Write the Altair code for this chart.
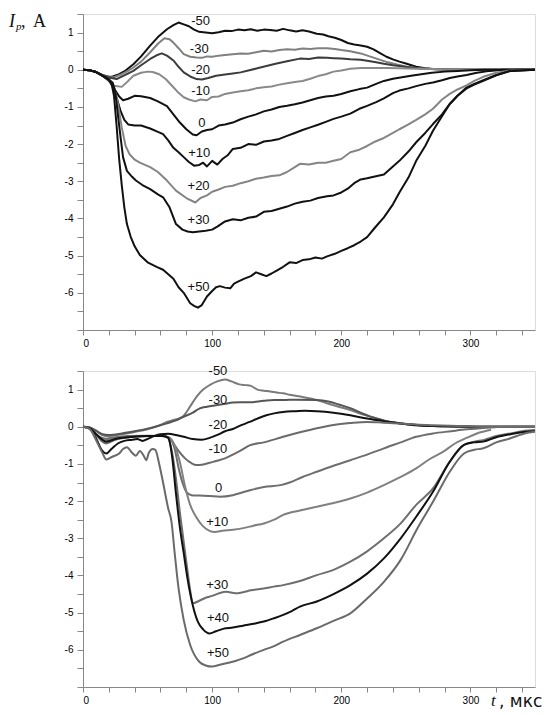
import altair as alt
import pandas as pd

# ---------------- top panel data ----------------
TOP_NAMES = ["-50", "-30", "-20", "-10", "0", "+10", "+20", "+30", "+50"]
TOP_COLORS = ["#111111", "#808080", "#3c3c3c", "#8a8a8a", "#111111", "#111111", "#858585", "#111111", "#111111"]

T_TOP_M50 = [0,5,10,15,20,23,28,33,39,45,52,58,65,70,74,78,82,86,90,95,100,105,110,115,120,125,130,135,140,145,150,155,160,165,170,175,181,186,190,195,200,205,210,215,220,225,230,235,240,245,250,258,265,271,280,290,300,320,350]
I_TOP_M50 = [0,-0.01,-0.06,-0.14,-0.19,-0.18,-0.12,-0.02,0.15,0.36,0.65,0.88,1.09,1.2,1.27,1.22,1.17,1.08,1.02,1.0,0.98,1.01,1.05,1.04,1.08,1.06,1.09,1.05,1.08,1.07,1.05,1.1,1.06,1.03,1.06,1.03,0.97,0.95,0.9,0.86,0.8,0.72,0.68,0.65,0.62,0.55,0.45,0.35,0.28,0.22,0.17,0.08,0.04,0.02,0.01,0.0,0.0,0.0,0.0]

T_TOP_M30 = [0,5,10,15,20,24,30,35,39,45,52,58,63,67,70,74,78,83,88,92,96,100,105,110,116,122,128,134,140,146,152,158,164,170,176,182,189,195,200,207,215,222,229,236,243,250,258,266,275,290,310,350]
I_TOP_M30 = [0,-0.01,-0.06,-0.15,-0.2,-0.2,-0.12,-0.03,0.06,0.22,0.47,0.7,0.85,0.82,0.73,0.58,0.42,0.35,0.33,0.32,0.36,0.35,0.38,0.4,0.42,0.44,0.43,0.47,0.51,0.49,0.53,0.55,0.54,0.57,0.56,0.58,0.58,0.56,0.53,0.5,0.44,0.36,0.28,0.2,0.14,0.09,0.05,0.03,0.01,0,0,0]

T_TOP_M20 = [0,5,10,15,20,26,32,39,45,52,57,61,65,70,74,78,83,88,92,97,103,110,116,122,128,135,142,150,158,168,175,182,189,194,200,207,215,220,227,233,240,245,252,260,270,285,310,350]
I_TOP_M20 = [0,-0.01,-0.06,-0.15,-0.21,-0.25,-0.15,-0.03,0.12,0.29,0.39,0.44,0.38,0.25,0.08,-0.07,-0.18,-0.25,-0.26,-0.22,-0.16,-0.13,-0.1,-0.07,-0.02,0.04,0.1,0.17,0.23,0.3,0.29,0.33,0.32,0.31,0.3,0.28,0.27,0.24,0.2,0.16,0.12,0.1,0.07,0.04,0.02,0.01,0,0]

T_TOP_M10 = [0,5,10,15,20,24,30,35,39,45,50,54,59,64,70,74,78,82,87,91,96,100,105,110,116,122,128,134,140,146,152,158,164,170,176,182,188,194,200,207,215,225,235,245,258,270,290,320,350]
I_TOP_M10 = [0,-0.01,-0.06,-0.16,-0.3,-0.43,-0.46,-0.3,-0.16,-0.08,-0.05,-0.06,-0.12,-0.25,-0.47,-0.62,-0.74,-0.8,-0.85,-0.8,-0.82,-0.73,-0.72,-0.65,-0.61,-0.58,-0.55,-0.5,-0.47,-0.45,-0.4,-0.36,-0.33,-0.3,-0.24,-0.17,-0.12,-0.05,-0.02,0.03,0.05,0.05,0.05,0.04,0.03,0.02,0.01,0,0]

T_TOP_0 = [0,5,10,15,20,24,28,31,35,40,45,52,58,65,70,75,80,85,88,92,96,100,105,110,116,122,128,134,140,146,152,158,164,170,176,182,188,194,200,207,214,220,227,233,240,247,254,262,270,280,290,300,310,330,350]
I_TOP_0 = [0,-0.01,-0.06,-0.16,-0.28,-0.5,-0.72,-0.82,-0.78,-0.7,-0.71,-0.76,-0.85,-0.98,-1.2,-1.42,-1.6,-1.74,-1.76,-1.66,-1.62,-1.6,-1.5,-1.47,-1.42,-1.33,-1.26,-1.2,-1.12,-1.07,-1.0,-0.97,-0.93,-0.88,-0.82,-0.76,-0.72,-0.7,-0.65,-0.58,-0.52,-0.48,-0.38,-0.3,-0.24,-0.2,-0.16,-0.12,-0.08,-0.05,-0.03,-0.01,0,0,0]

T_TOP_P10 = [0,5,10,15,20,23,26,29,32,35,40,45,52,58,62,66,70,74,78,82,86,90,93,96,100,104,108,112,116,122,128,134,140,146,152,158,164,170,176,182,188,194,200,207,214,220,227,233,240,245,252,258,265,271,278,284,290,297,305,315,325,350]
I_TOP_P10 = [0,-0.01,-0.06,-0.16,-0.27,-0.45,-0.75,-1.1,-1.35,-1.47,-1.5,-1.5,-1.58,-1.67,-1.73,-1.9,-2.1,-2.22,-2.35,-2.48,-2.58,-2.56,-2.5,-2.6,-2.45,-2.55,-2.4,-2.3,-2.13,-2.1,-2.0,-2.02,-1.93,-1.9,-1.86,-1.78,-1.7,-1.62,-1.55,-1.48,-1.4,-1.32,-1.26,-1.18,-1.05,-0.97,-0.87,-0.77,-0.63,-0.56,-0.5,-0.44,-0.38,-0.34,-0.28,-0.22,-0.18,-0.14,-0.08,-0.03,0,0]

T_TOP_P20 = [0,5,10,15,20,24,27,30,33,36,40,44,52,58,65,72,80,87,91,96,100,105,110,116,122,128,134,140,146,152,158,164,168,175,182,188,194,200,207,214,220,225,232,240,245,252,258,265,271,278,284,290,297,303,310,320,331,350]
I_TOP_P20 = [0,-0.01,-0.06,-0.16,-0.26,-0.45,-0.9,-1.55,-2.05,-2.27,-2.42,-2.5,-2.62,-2.75,-2.98,-3.25,-3.45,-3.57,-3.45,-3.38,-3.28,-3.22,-3.15,-3.12,-3.05,-3.0,-2.93,-2.9,-2.86,-2.84,-2.75,-2.62,-2.53,-2.55,-2.5,-2.5,-2.45,-2.4,-2.22,-2.15,-2.05,-1.95,-1.85,-1.7,-1.6,-1.47,-1.35,-1.2,-1.05,-0.8,-0.65,-0.53,-0.42,-0.3,-0.19,-0.08,-0.02,0]

T_TOP_P30 = [0,5,10,15,20,23,25,28,31,34,38,41,46,52,58,62,67,72,77,81,85,90,95,100,104,110,116,122,128,134,140,146,152,158,164,170,176,182,189,194,200,205,210,215,220,226,233,240,245,252,258,265,271,278,284,290,297,303,310,320,331,350]
I_TOP_P30 = [0,-0.01,-0.06,-0.16,-0.26,-0.35,-0.6,-1.5,-2.35,-2.72,-2.88,-2.98,-3.1,-3.21,-3.35,-3.43,-3.7,-4.15,-4.3,-4.35,-4.37,-4.35,-4.33,-4.3,-4.22,-4.08,-4.02,-4.05,-3.98,-3.95,-3.82,-3.8,-3.74,-3.68,-3.6,-3.55,-3.52,-3.45,-3.4,-3.38,-3.3,-3.2,-3.05,-2.95,-2.92,-2.87,-2.82,-2.6,-2.45,-2.2,-1.95,-1.7,-1.46,-1.2,-0.92,-0.7,-0.48,-0.38,-0.28,-0.14,-0.03,0]

T_TOP_P50 = [0,5,10,15,20,22,24,26,28,30,32,34,37,40,44,50,57,62,66,70,74,78,83,86,89,92,96,100,103,106,110,114,117,120,125,130,134,138,142,146,150,155,160,165,170,175,180,185,189,195,200,205,210,215,220,226,233,240,245,252,258,265,271,278,284,290,297,303,310,320,331,350]
I_TOP_P50 = [0,-0.01,-0.06,-0.16,-0.26,-0.35,-0.7,-1.5,-2.4,-3.1,-3.7,-4.15,-4.5,-4.75,-4.98,-5.18,-5.3,-5.38,-5.5,-5.62,-5.85,-6.0,-6.28,-6.35,-6.4,-6.33,-6.1,-5.95,-5.85,-5.82,-5.86,-5.88,-5.75,-5.7,-5.62,-5.55,-5.45,-5.5,-5.55,-5.48,-5.4,-5.3,-5.18,-5.2,-5.12,-5.1,-5.05,-5.08,-5.02,-4.95,-4.87,-4.8,-4.72,-4.62,-4.5,-4.25,-3.97,-3.62,-3.3,-2.9,-2.45,-2.05,-1.64,-1.25,-0.92,-0.7,-0.5,-0.4,-0.3,-0.15,-0.03,0]

TOP_T = [T_TOP_M50, T_TOP_M30, T_TOP_M20, T_TOP_M10, T_TOP_0, T_TOP_P10, T_TOP_P20, T_TOP_P30, T_TOP_P50]
TOP_I = [I_TOP_M50, I_TOP_M30, I_TOP_M20, I_TOP_M10, I_TOP_0, I_TOP_P10, I_TOP_P20, I_TOP_P30, I_TOP_P50]
TOP_LABEL_T = [91, 90, 91, 91, 92, 90, 89.5, 89.5, 89.5]
TOP_LABEL_I = [1.32, 0.56, 0.0, -0.56, -1.42, -2.23, -3.12, -4.03, -5.83]

# ---------------- bottom panel data ----------------
BOT_NAMES = ["-50", "-30", "-20", "-10", "0", "+10", "+30", "+40", "+50"]
BOT_COLORS = ["#7a7a7a", "#555555", "#111111", "#6a6a6a", "#6e6e6e", "#808080", "#6e6e6e", "#111111", "#6a6a6a"]

T_BOT_M50 = [0,5,10,15,20,30,40,50,60,65,70,75,78,83,88,93,98,104,110,115,121,126,130,135,140,145,150,155,160,170,181,190,200,207,215,222,228,235,246,258,271,290,310,350]
I_BOT_M50 = [0,-0.02,-0.12,-0.22,-0.25,-0.2,-0.14,-0.07,0.05,0.13,0.18,0.23,0.3,0.55,0.81,1.0,1.12,1.22,1.27,1.22,1.14,1.12,1.1,1.0,0.97,0.95,0.92,0.9,0.86,0.8,0.72,0.62,0.52,0.45,0.35,0.28,0.22,0.15,0.09,0.05,0.02,0.01,0,0]

T_BOT_M30 = [0,5,10,15,20,30,40,50,58,65,72,78,85,90,96,103,110,116,122,129,140,148,155,165,181,190,198,207,215,222,228,236,246,258,271,290,310,350]
I_BOT_M30 = [0,-0.02,-0.1,-0.2,-0.22,-0.18,-0.12,-0.05,0.02,0.09,0.17,0.27,0.38,0.49,0.54,0.58,0.62,0.65,0.66,0.66,0.7,0.72,0.72,0.73,0.72,0.68,0.6,0.5,0.38,0.28,0.22,0.14,0.09,0.05,0.02,0.01,0,0]

T_BOT_M20 = [0,5,10,14,18,22,27,32,38,42,46,50,55,60,66,72,78,85,92,98,104,110,116,123,129,135,142,148,155,165,172,181,194,207,220,233,246,258,271,300,350]
I_BOT_M20 = [0,-0.05,-0.3,-0.6,-0.72,-0.6,-0.45,-0.38,-0.35,-0.33,-0.38,-0.33,-0.25,-0.2,-0.19,-0.22,-0.27,-0.33,-0.35,-0.3,-0.22,-0.12,-0.06,0.05,0.13,0.22,0.31,0.36,0.4,0.42,0.43,0.42,0.38,0.31,0.22,0.15,0.09,0.04,0.02,0,0]

T_BOT_M10 = [0,5,10,15,18,25,32,40,50,60,66,70,74,79,84,88,92,98,103,110,116,123,129,140,155,168,181,194,207,220,233,246,258,271,290,310,350]
I_BOT_M10 = [0,-0.03,-0.2,-0.4,-0.45,-0.35,-0.3,-0.27,-0.25,-0.25,-0.28,-0.45,-0.65,-0.85,-0.98,-1.03,-1.02,-0.97,-0.92,-0.85,-0.75,-0.62,-0.5,-0.42,-0.27,-0.15,-0.04,0.05,0.1,0.13,0.11,0.09,0.06,0.04,0.02,0,0]

T_BOT_0 = [0,5,10,15,18,25,35,50,62,67,71,74,77,80,84,90,98,106,116,125,130,140,153,160,170,181,194,207,220,233,246,258,271,285,297,310,330,350]
I_BOT_0 = [0,-0.03,-0.2,-0.35,-0.38,-0.32,-0.28,-0.25,-0.25,-0.3,-0.6,-1.1,-1.5,-1.75,-1.84,-1.85,-1.86,-1.88,-1.84,-1.75,-1.7,-1.62,-1.57,-1.5,-1.35,-1.21,-1.05,-0.9,-0.75,-0.58,-0.42,-0.27,-0.18,-0.12,-0.07,-0.03,0,0]

T_BOT_P10 = [0,5,10,15,18,25,35,50,62,67,71,75,79,83,88,93,98,102,108,116,125,132,140,148,155,168,181,194,207,220,233,246,258,268,279,288,297,305,316]
I_BOT_P10 = [0,-0.03,-0.2,-0.33,-0.35,-0.3,-0.27,-0.25,-0.25,-0.3,-0.5,-0.95,-1.6,-2.1,-2.45,-2.68,-2.8,-2.83,-2.8,-2.77,-2.72,-2.66,-2.6,-2.5,-2.37,-2.25,-2.15,-2.05,-1.93,-1.77,-1.57,-1.35,-1.12,-0.88,-0.67,-0.45,-0.3,-0.18,-0.08]

T_BOT_P30 = [0,5,10,15,18,25,35,50,62,66,69,72,75,78,81,83,85,90,95,100,106,111,118,124,130,140,148,155,168,181,194,207,220,233,246,258,271,284,295,303,310,320,331,340,350]
I_BOT_P30 = [0,-0.03,-0.2,-0.3,-0.32,-0.28,-0.25,-0.24,-0.25,-0.3,-0.7,-1.4,-2.3,-3.1,-3.9,-4.4,-4.75,-4.68,-4.6,-4.55,-4.47,-4.44,-4.48,-4.45,-4.4,-4.35,-4.3,-4.26,-4.15,-3.99,-3.85,-3.63,-3.35,-3.0,-2.6,-2.1,-1.66,-0.94,-0.49,-0.4,-0.36,-0.25,-0.18,-0.12,-0.09]

T_BOT_P40 = [0,5,10,15,18,25,35,50,62,66,69,72,75,78,81,85,89,93,98,103,109,116,124,132,140,148,155,162,168,181,194,207,220,233,246,259,271,284,295,303,310,320,331,340,350]
I_BOT_P40 = [0,-0.03,-0.2,-0.35,-0.4,-0.33,-0.28,-0.25,-0.25,-0.3,-0.8,-1.8,-2.7,-3.4,-4.1,-4.8,-5.25,-5.45,-5.56,-5.5,-5.43,-5.4,-5.35,-5.3,-5.24,-5.15,-5.06,-4.95,-4.84,-4.7,-4.5,-4.26,-3.95,-3.54,-3.0,-2.37,-1.75,-0.94,-0.49,-0.42,-0.4,-0.28,-0.2,-0.15,-0.12]

T_BOT_P50 = [0,5,10,15,18,23,28,31,34,38,41,44,47,49,51,54,56,59,62,66,68.5,71,74,78,83,90,95,100,106,111,118,124,130,140,148,155,168,181,194,207,220,233,246,259,271,284,295,303,310,320,331,340,350]
I_BOT_P50 = [0,-0.05,-0.35,-0.7,-0.88,-0.8,-0.72,-0.6,-0.55,-0.7,-0.78,-0.65,-0.78,-0.9,-0.7,-0.6,-0.62,-1.0,-1.5,-2.2,-2.55,-3.4,-4.35,-5.2,-5.87,-6.32,-6.42,-6.45,-6.4,-6.36,-6.3,-6.23,-6.14,-6.0,-5.9,-5.78,-5.6,-5.42,-5.22,-5.02,-4.62,-4.17,-3.58,-2.73,-2.02,-1.21,-0.72,-0.62,-0.58,-0.42,-0.31,-0.2,-0.13]

BOT_T = [T_BOT_M50, T_BOT_M30, T_BOT_M20, T_BOT_M10, T_BOT_0, T_BOT_P10, T_BOT_P30, T_BOT_P40, T_BOT_P50]
BOT_I = [I_BOT_M50, I_BOT_M30, I_BOT_M20, I_BOT_M10, I_BOT_0, I_BOT_P10, I_BOT_P30, I_BOT_P40, I_BOT_P50]
BOT_LABEL_T = [104.5, 104.5, 104.5, 104.5, 105, 104, 104, 104.5, 104.5]
BOT_LABEL_I = [1.5, 0.73, 0.05, -0.6, -1.64, -2.55, -4.26, -5.15, -6.08]

Y_TICKS = [-7 + 0.5 * k for k in range(18)]
X_TICKS = list(range(0, 341, 20))

W, H = 452, 316
FONT = "Liberation Sans"
SERIF = "Liberation Serif"


def build_df(names, ts, vals, prefix):
    rows = []
    for order, (n, tt, vv) in enumerate(zip(names, ts, vals)):
        for t, v in zip(tt, vv):
            rows.append({"series": prefix + n, "order": order, "t": t, "I": v})
    return pd.DataFrame(rows)


def panel(names, colors, ts, vals, lab_t, lab_i, interp, prefix):
    df = build_df(names, ts, vals, prefix)
    lab = pd.DataFrame({"name": names, "t": lab_t, "I": lab_i})
    xs = alt.Scale(domain=[0, 350], nice=False, zero=False)
    ys = alt.Scale(domain=[-7, 1.5], nice=False, zero=False)
    xaxis = alt.Axis(values=X_TICKS, labelExpr="datum.value % 100 == 0 ? '' + datum.value : ''",
                     title=None, grid=False, tickSize=5, labelPadding=3, labelOverlap=False)
    yaxis = alt.Axis(values=Y_TICKS,
                     labelExpr="(datum.value % 1 == 0 && datum.value > -7) ? '' + datum.value : ''",
                     title=None, grid=False, tickSize=6, labelPadding=4, labelOverlap=False)
    lines = alt.Chart(df).mark_line(strokeWidth=2, interpolate=interp, strokeJoin="round").encode(
        x=alt.X("t:Q", scale=xs, axis=xaxis),
        y=alt.Y("I:Q", scale=ys, axis=yaxis),
        color=alt.Color("series:N", scale=alt.Scale(domain=[prefix + n for n in names], range=colors), legend=None),
        detail="series:N",
        order="order:Q",
    )
    texts = alt.Chart(lab).mark_text(font=FONT, fontSize=13, color="#111111", baseline="middle", align="center").encode(
        x=alt.X("t:Q", scale=xs, axis=xaxis),
        y=alt.Y("I:Q", scale=ys, axis=yaxis),
        text="name:N",
    )
    return lines, texts


top_lines, top_texts = panel(TOP_NAMES, TOP_COLORS, TOP_T, TOP_I, TOP_LABEL_T, TOP_LABEL_I, "linear", "a")
bot_lines, bot_texts = panel(BOT_NAMES, BOT_COLORS, BOT_T, BOT_I, BOT_LABEL_T, BOT_LABEL_I, "monotone", "b")

one = pd.DataFrame({"k": [0]})


def label(text, x, y, size, font=FONT, style="normal"):
    return alt.Chart(one).mark_text(text=text, font=font, fontStyle=style, fontSize=size, align="left",
                                    baseline="middle", color="#111111").encode(x=alt.value(x), y=alt.value(y))


y_title = [
    label("I", -74, 8, 18, SERIF, "italic"),
    label("p", -67, 13, 11, SERIF, "italic"),
    label(",", -62, 8, 18, SERIF),
    label("A", -50, 8, 18, SERIF),
]
x_title = [
    label("t", 408, 330, 17, SERIF, "italic"),
    label(", мкс", 416, 331, 17, "DejaVu Sans"),
]

top = alt.layer(top_lines, top_texts, *y_title).properties(width=W, height=H)
bottom = alt.layer(bot_lines, bot_texts, *x_title).properties(width=W, height=H)

chart = alt.vconcat(top, bottom, spacing=41, bounds="flush").resolve_scale(color="independent").properties(
    padding={"left": 0, "top": 0, "right": 0, "bottom": 0}
).configure_view(stroke=None).configure_axis(
    domainColor="#222222", domainWidth=1.5, tickColor="#222222", tickWidth=1.2,
    labelFont=FONT, labelFontSize=14, labelColor="#222222", labelOverlap=False,
).configure(background="white")

chart.save("out.html", embed_options={"renderer": "svg", "actions": False})
